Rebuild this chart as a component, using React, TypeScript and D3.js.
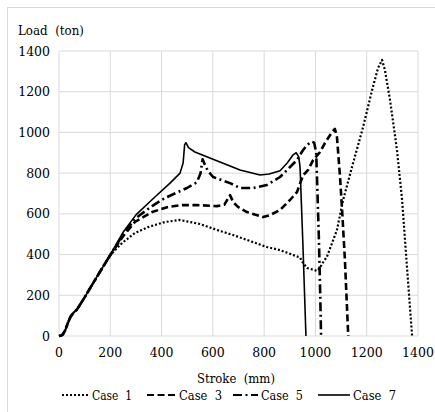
import React from "react";
import * as d3 from "d3";

const xTicks = [0, 200, 400, 600, 800, 1000, 1200, 1400];
const yTicks = [0, 200, 400, 600, 800, 1000, 1200, 1400];
const seriesNames = ["Case  1", "Case  3", "Case  5", "Case  7"];

const common: [number, number][] = [
  [0, 0], [8, 2], [15, 8], [25, 30], [35, 65], [45, 95], [55, 112], [70, 130],
  [100, 190], [150, 295], [200, 398],
];

const case1: [number, number][] = [
  ...common,
  [246, 457], [296, 506], [347, 535], [413, 560], [472, 570], [550, 550], [616, 521],
  [679, 496], [733, 472], [811, 437], [862, 422], [913, 398], [940, 385], [950, 362],
  [967, 334], [990, 326], [1006, 320], [1018, 336], [1030, 362], [1045, 390], [1060, 440],
  [1084, 521], [1108, 668], [1147, 850], [1186, 1027], [1221, 1208], [1244, 1316],
  [1260, 1356], [1271, 1306], [1291, 1159], [1318, 914], [1338, 668], [1357, 339], [1377, 0],
];

const case3: [number, number][] = [
  ...common,
  [250, 490], [296, 560], [363, 609], [425, 634], [480, 643], [538, 643], [616, 638],
  [645, 645], [667, 692], [679, 658], [698, 634], [733, 609], [796, 584], [823, 594],
  [862, 619], [901, 668], [928, 707], [952, 790], [971, 815], [991, 864], [1018, 904],
  [1037, 948], [1065, 1002], [1076, 1017], [1084, 977], [1096, 781], [1104, 619],
  [1115, 373], [1128, 0],
];

const case5: [number, number][] = [
  ...common,
  [250, 500], [300, 580], [363, 638], [413, 678], [464, 707], [499, 727], [538, 756],
  [552, 800], [560, 868], [566, 850], [580, 812], [601, 781], [667, 751], [706, 727],
  [757, 727], [811, 742], [862, 781], [901, 830], [928, 864], [950, 910], [967, 938],
  [985, 955], [995, 950], [1003, 900], [1008, 700], [1013, 500], [1017, 300], [1022, 0],
];

const case7: [number, number][] = [
  ...common,
  [250, 510], [300, 595], [374, 683], [433, 751], [472, 800], [484, 850], [490, 940],
  [495, 950], [505, 925], [530, 904], [608, 864], [706, 815], [784, 791], [820, 796],
  [862, 812], [890, 850], [913, 890], [925, 900], [935, 880], [940, 830], [951, 457],
  [963, 0],
];

const W = 435;
const H = 412;
const m = { left: 59, right: 418, top: 51, bottom: 336 };

const styles = [
  { dash: "2,2", width: 2.2 },
  { dash: "7,3.5", width: 2.6 },
  { dash: "9,3.5,2,3.5", width: 2.6 },
  { dash: "none", width: 1.6 },
];

const FONT = "DejaVu Serif";

export default function App() {
  const x = d3.scaleLinear().domain([0, 1400]).range([m.left, m.right]);
  const y = d3.scaleLinear().domain([0, 1400]).range([m.bottom, m.top]);
  const line = d3
    .line<[number, number]>()
    .x((d) => x(d[0]))
    .y((d) => y(d[1]))
    .curve(d3.curveLinear);
  const data = [case1, case3, case5, case7];
  const legendX = [62, 147, 233, 318];
  const legendLen = [27, 29, 25, 32];
  const legendTextW = [40, 43, 42, 43];
  const ts: React.CSSProperties = { fontFamily: FONT, fontSize: "12.5px", whiteSpace: "pre" };
  return (
    <svg
      width={W}
      height={H}
      style={{ position: "absolute", left: 0, top: 0, background: "#fff" }}
    >
      <rect x={7.5} y={7.5} width={440} height={420} fill="#fff" stroke="#d9d9d9" />
      {xTicks.map((t) => (
        <line key={"gx" + t} x1={x(t)} x2={x(t)} y1={y(0)} y2={y(1400)} stroke="#d9d9d9" strokeWidth={1} />
      ))}
      {yTicks.map((t) => (
        <line key={"gy" + t} x1={x(0)} x2={x(1400)} y1={y(t)} y2={y(t)} stroke="#d9d9d9" strokeWidth={1} />
      ))}
      {yTicks.map((t) => (
        <text key={"ty" + t} x={50} y={y(t) + 4.5} textAnchor="end" style={ts} fill="#000">
          {t}
        </text>
      ))}
      {xTicks.map((t) => (
        <text key={"tx" + t} x={x(t)} y={357} textAnchor="middle" style={ts} fill="#000">
          {t}
        </text>
      ))}
      <text x={18} y={35} style={ts} textLength={66} lengthAdjust="spacingAndGlyphs">
        {"Load  (ton)"}
      </text>
      <text x={197} y={383} style={ts} textLength={78} lengthAdjust="spacingAndGlyphs">
        {"Stroke  (mm)"}
      </text>
      {data.map((d, i) => (
        <path
          key={"s" + i}
          d={line(d) || ""}
          fill="none"
          stroke="#000"
          strokeWidth={styles[i].width}
          strokeDasharray={styles[i].dash}
          strokeLinejoin="round"
        />
      ))}
      {seriesNames.map((n, i) => (
        <g key={"lg" + i}>
          <line
            x1={legendX[i]}
            x2={legendX[i] + legendLen[i]}
            y1={395}
            y2={395}
            stroke="#000"
            strokeWidth={i === 3 ? 1.6 : 2.2}
            strokeDasharray={styles[i].dash}
          />
          <text
            x={legendX[i] + legendLen[i] + 3}
            y={400}
            style={ts}
            textLength={legendTextW[i]}
            lengthAdjust="spacingAndGlyphs"
          >
            {n}
          </text>
        </g>
      ))}
    </svg>
  );
}
